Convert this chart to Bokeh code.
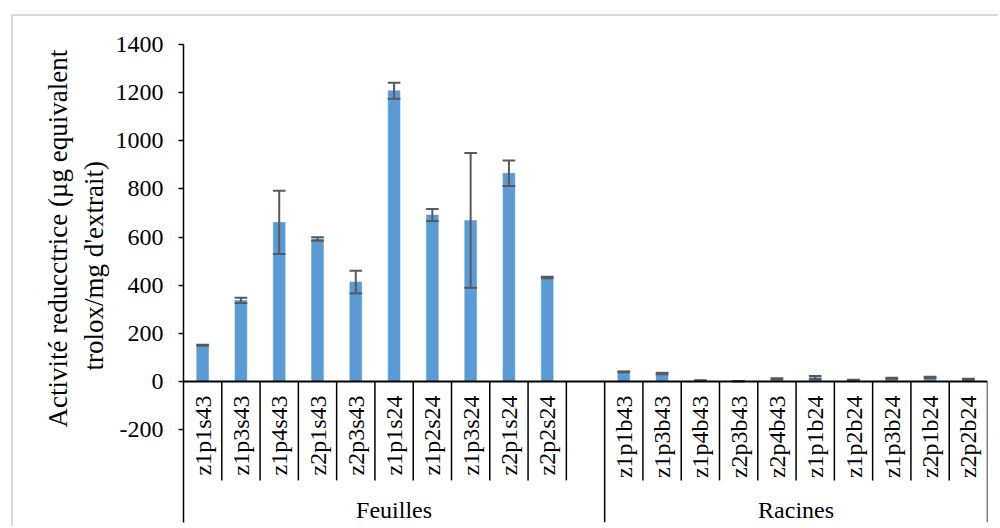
from math import pi

from bokeh.core.properties import value
from bokeh.embed import file_html
from bokeh.models import ColumnDataSource, FixedTicker, LabelSet, Range1d, Title
from bokeh.plotting import figure
from bokeh.resources import INLINE

# Reducing activity per sample (µg Trolox equivalent / mg extract)
groups = ["Feuilles", "Racines"]

feuilles_samples = ["z1p1s43", "z1p3s43", "z1p4s43", "z2p1s43", "z2p3s43",
                    "z1p1s24", "z1p2s24", "z1p3s24", "z2p1s24", "z2p2s24"]
feuilles_values = [150, 337, 661, 592, 413, 1208, 692, 669, 865, 432]
feuilles_errors = [2, 11, 131, 7, 47, 33, 25, 280, 53, 3]

racines_samples = ["z1p1b43", "z1p3b43", "z1p4b43", "z2p3b43", "z2p4b43",
                   "z1p1b24", "z1p2b24", "z1p3b24", "z2p1b24", "z2p2b24"]
racines_values = [40, 33, 4, 1, 11, 16, 6, 13, 17, 9]
racines_errors = [2, 3, 1, 1, 2, 7, 1, 2, 3, 2]

y_ticks = [-200, 0, 200, 400, 600, 800, 1000, 1200, 1400]
y_title_lines = ["Activité reducctrice (µg equivalent", "trolox/mg d'extrait)"]

# ---- slot layout: Feuilles gets one trailing empty slot ----
slots_feuilles = len(feuilles_samples) + 1
slots_racines = len(racines_samples)
n_slots = slots_feuilles + slots_racines

centers = [i + 0.5 for i in range(len(feuilles_samples))] + \
          [slots_feuilles + i + 0.5 for i in range(len(racines_samples))]
labels = feuilles_samples + racines_samples
vals = feuilles_values + racines_values
errs = feuilles_errors + racines_errors

Y_MIN = -586        # bottom of the category table
TICK_LOW = -411     # end of the short separators between sample labels
BAR_W = 0.31
CAP_W = 0.33
SERIF = "Liberation Serif"
FS = "24px"

p = figure(width=987, height=512,
           x_range=Range1d(0, n_slots), y_range=Range1d(Y_MIN, 1400),
           output_backend="svg", toolbar_location=None,
           x_axis_location=None,
           min_border_left=170, min_border_right=13,
           min_border_top=28, min_border_bottom=6)
p.styles = {"margin-left": "11px", "margin-top": "14px",
            "border-left": "2px solid #d9d9d9",
            "border-top": "2px solid #d9d9d9"}

p.outline_line_color = None
p.grid.visible = False
p.background_fill_color = "white"
p.border_fill_color = "white"

# y axis
ax = p.yaxis[0]
ax.ticker = FixedTicker(ticks=y_ticks)
ax.major_label_overrides = {t: str(t) for t in y_ticks}
ax.minor_tick_line_color = None
ax.major_tick_in = 0
ax.major_tick_out = 5
ax.major_tick_line_color = "black"
ax.major_tick_line_width = 1.5
ax.axis_line_color = "black"
ax.axis_line_width = 1.5
ax.major_label_text_font = SERIF
ax.major_label_text_font_size = FS
ax.major_label_text_color = "black"
ax.major_label_standoff = 15

# y title: two side-panel lines, each centred on the value part of the axis
# (offset = distance of the line's start above the bottom of the plot area)
line2_offset = 152
line1_offset = 95
p.add_layout(Title(text=y_title_lines[1], align="left", offset=line2_offset, standoff=8,
                   text_font=SERIF, text_font_size="27px",
                   text_font_style="normal", text_color="black"), "left")
p.add_layout(Title(text=y_title_lines[0], align="left", offset=line1_offset, standoff=0,
                   text_font=SERIF, text_font_size="27px",
                   text_font_style="normal", text_color="black"), "left")

# bars
p.vbar(x=centers, top=vals, width=BAR_W, bottom=0,
       fill_color="#5B9BD5", line_color="#5B9BD5", line_width=0.5)

# error bars
lo = [v - e for v, e in zip(vals, errs)]
hi = [v + e for v, e in zip(vals, errs)]
ERR_COLOR = "#595959"
p.segment(x0=centers, y0=lo, x1=centers, y1=hi, line_color=ERR_COLOR, line_width=2)
left = [c - CAP_W / 2 for c in centers]
right = [c + CAP_W / 2 for c in centers]
p.segment(x0=left, y0=lo, x1=right, y1=lo, line_color=ERR_COLOR, line_width=2)
p.segment(x0=left, y0=hi, x1=right, y1=hi, line_color=ERR_COLOR, line_width=2)

# category axis line at zero
p.segment(x0=[0], y0=[0], x1=[n_slots], y1=[0], line_color="black", line_width=2)

# separators between sample labels
short_x = [i for i in range(1, n_slots) if i != slots_feuilles]
p.segment(x0=short_x, y0=[0] * len(short_x), x1=short_x, y1=[TICK_LOW] * len(short_x),
          line_color="black", line_width=1.5)
long_x = [slots_feuilles, n_slots]
p.segment(x0=long_x, y0=[0] * 2, x1=long_x, y1=[Y_MIN] * 2,
          line_color="black", line_width=1.5)

# rotated sample labels
p.text(x=centers, y=[0] * len(centers), text=labels, angle=pi / 2,
       text_align="right", text_baseline="middle", y_offset=14,
       text_font=value(SERIF), text_font_size=FS, text_color="black")

# group labels
group_centers = [slots_feuilles / 2, slots_feuilles + slots_racines / 2]
gsrc = ColumnDataSource(dict(x=group_centers, y=[Y_MIN] * 2, text=groups))
p.add_layout(LabelSet(x="x", y="y", text="text", source=gsrc,
                      text_align="center", text_baseline="alphabetic", y_offset=5,
                      text_font=SERIF, text_font_size=FS, text_color="black"))

open("out.html", "w").write(file_html(p, INLINE))
